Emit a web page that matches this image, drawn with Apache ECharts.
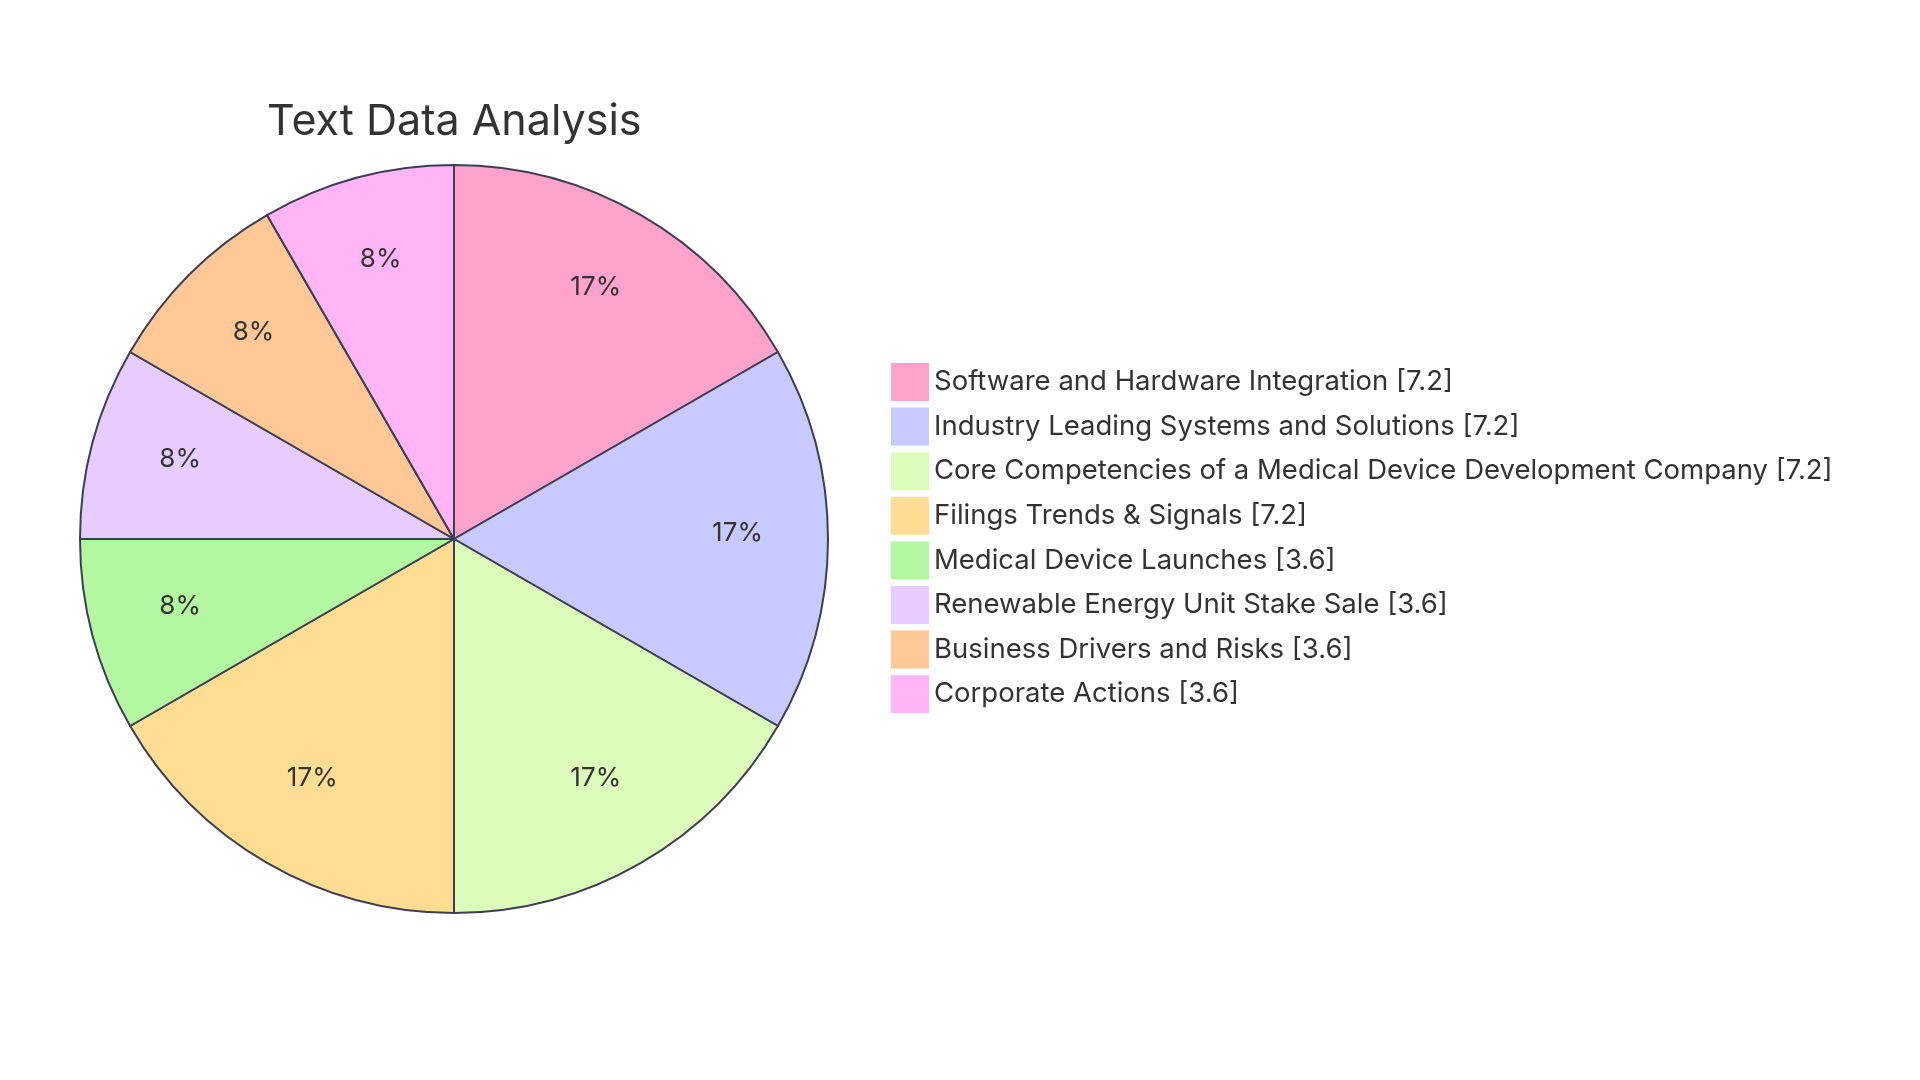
<!DOCTYPE html>
<html>
<head>
<meta charset="utf-8">
<script src="https://cdn.jsdelivr.net/npm/echarts@6/dist/echarts.min.js"></script>
<style>html,body{margin:0;padding:0;background:#fff;}#c{width:1920px;height:1080px;}</style>
</head>
<body>
<div id="c"></div>
<script>
var categories = [
  "Software and Hardware Integration",
  "Industry Leading Systems and Solutions",
  "Core Competencies of a Medical Device Development Company",
  "Filings Trends & Signals",
  "Medical Device Launches",
  "Renewable Energy Unit Stake Sale",
  "Business Drivers and Risks",
  "Corporate Actions"
];
var values = [7.2, 7.2, 7.2, 7.2, 3.6, 3.6, 3.6, 3.6];
var colors = ["#FFA3CC", "#C8CAFF", "#DCFABA", "#FFDE94", "#B3F7A0", "#E6CCFF", "#FFC896", "#FFB5F6"];

var total = values.reduce(function(a, b){ return a + b; }, 0);
var data = categories.map(function(n, i){ return { name: n, value: values[i], itemStyle: { color: colors[i] } }; });

var font = "Inter, 'Noto Sans', sans-serif";
var chart = echarts.init(document.getElementById('c'));
chart.setOption({
  animation: false,
  title: {
    text: "Text Data Analysis",
    left: 262, top: 96,
    textStyle: { fontFamily: font, fontSize: 43, fontWeight: 'normal', color: '#333' }
  },
  legend: {
    data: categories,
    orient: 'vertical',
    left: 886, top: 358,
    itemWidth: 38, itemHeight: 38, itemGap: 6.6,
    icon: 'rect',
    selectedMode: false,
    itemStyle: { borderWidth: 0 },
    formatter: function(name){
      var i = categories.indexOf(name);
      return name + " [" + values[i] + "]";
    },
    textStyle: { fontFamily: font, fontSize: 27.5, color: '#333' }
  },
  series: [
    {
      type: 'pie',
      center: [454, 539],
      radius: [0, 374],
      startAngle: 90,
      clockwise: true,
      silent: true,
      label: { show: false },
      labelLine: { show: false },
      itemStyle: { borderColor: '#3d3d55', borderWidth: 2 },
      data: data
    },
    {
      type: 'pie',
      center: [454, 539],
      radius: [187, 374],
      startAngle: 90,
      clockwise: true,
      silent: true,
      legendHoverLink: false,
      itemStyle: { color: 'rgba(0,0,0,0)', borderWidth: 0 },
      label: {
        show: true, position: 'inside',
        fontFamily: font, fontSize: 26, color: '#333',
        offset: [0, -6],
        formatter: function(p){ return Math.round(p.value / total * 100) + "%"; }
      },
      labelLine: { show: false },
      data: categories.map(function(n, i){ return { name: n + " ", value: values[i] }; })
    }
  ]
});
</script>
</body>
</html>
